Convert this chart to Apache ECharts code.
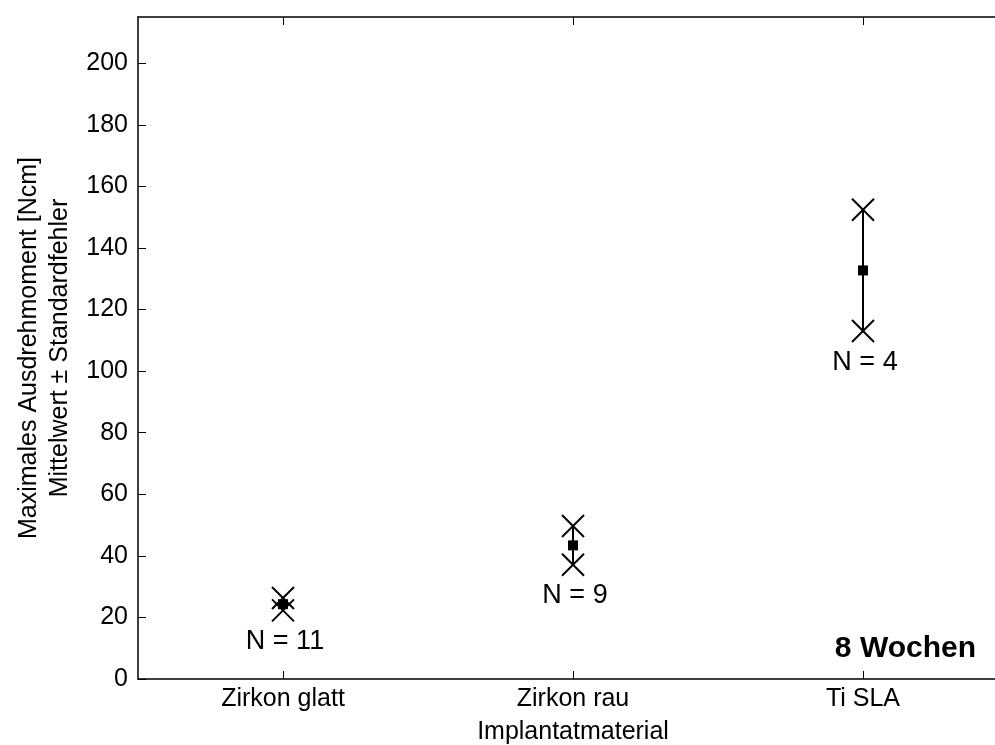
<!DOCTYPE html>
<html>
<head>
<meta charset="utf-8">
<script src="https://cdn.jsdelivr.net/npm/echarts@6/dist/echarts.min.js"></script>
<style>html,body{margin:0;padding:0;background:#fff}#c{width:995px;height:745px}</style>
</head>
<body>
<div id="c"></div>
<script>
const categories = ['Zirkon glatt', 'Zirkon rau', 'Ti SLA'];
const means = [24.3, 43.4, 132.7];
const stdErr = [2.0, 6.3, 19.7];
const nValues = [11, 9, 4];
const yTicks = [0, 20, 40, 60, 80, 100, 120, 140, 160, 180, 200];

const FONT = 'Liberation Sans, Arial, Helvetica, sans-serif';
const data = categories.map((c, i) => [i, means[i], means[i] - stdErr[i], means[i] + stdErr[i], nValues[i]]);

const chart = echarts.init(document.getElementById('c'), null, {renderer: 'canvas'});
chart.setOption({
  animation: false,
  backgroundColor: '#fff',
  grid: {left: 138, top: 17, bottom: 66, right: -13, containLabel: false, outerBoundsMode: 'none'},
  xAxis: [{
    type: 'category',
    data: categories,
    boundaryGap: true,
    position: 'bottom',
    name: 'Implantatmaterial',
    nameLocation: 'middle',
    nameGap: 41,
    nameTextStyle: {fontFamily: FONT, fontSize: 25, color: '#000'},
    axisLine: {lineStyle: {color: '#000', width: 1.5}},
    axisTick: {show: true, inside: true, alignWithLabel: true, length: 8, lineStyle: {color: '#000', width: 1}},
    axisLabel: {fontFamily: FONT, fontSize: 25, color: '#000', margin: 8},
    splitLine: {show: false}
  }, {
    type: 'category',
    data: categories,
    boundaryGap: true,
    position: 'top',
    axisLine: {lineStyle: {color: '#000', width: 1.5}},
    axisTick: {show: true, inside: true, alignWithLabel: true, length: 8, lineStyle: {color: '#000', width: 1}},
    axisLabel: {show: false},
    splitLine: {show: false}
  }],
  yAxis: {
    type: 'value',
    min: 0,
    max: 215,
    interval: 20,
    name: 'Maximales Ausdrehmoment [Ncm]\nMittelwert \u00b1 Standardfehler',
    nameLocation: 'middle',
    nameRotate: 90,
    nameGap: 62,
    nameTextStyle: {fontFamily: FONT, fontSize: 25, color: '#000', lineHeight: 31},
    axisLine: {show: true, lineStyle: {color: '#000', width: 1.5}},
    axisTick: {show: true, inside: true, length: 8, lineStyle: {color: '#000', width: 1}},
    axisLabel: {fontFamily: FONT, fontSize: 25, color: '#000', margin: 10, showMaxLabel: false,
      formatter: v => (yTicks.indexOf(v) >= 0 ? String(v) : '')},
    splitLine: {show: false}
  },
  graphic: [{
    type: 'text',
    right: 19,
    top: 634,
    style: {text: '8 Wochen', font: 'bold 30px ' + FONT, fill: '#000'}
  }],
  series: [{
    type: 'custom',
    data: data,
    encode: {x: 0, y: [1, 2, 3]},
    clip: false,
    renderItem: function (params, api) {
      const x = api.value(0);
      const pm = api.coord([x, api.value(1)]);
      const pl = api.coord([x, api.value(2)]);
      const ph = api.coord([x, api.value(3)]);
      const s = 11;
      const cx = pm[0];
      const ls = {stroke: '#000', lineWidth: 2};
      const cross = (y) => ([
        {type: 'line', shape: {x1: cx - s, y1: y - s, x2: cx + s, y2: y + s}, style: ls},
        {type: 'line', shape: {x1: cx - s, y1: y + s, x2: cx + s, y2: y - s}, style: ls}
      ]);
      const q = 5;
      return {
        type: 'group',
        children: [
          {type: 'line', shape: {x1: cx, y1: pl[1], x2: cx, y2: ph[1]}, style: ls},
          ...cross(pl[1]),
          ...cross(ph[1]),
          {type: 'rect', shape: {x: cx - q, y: pm[1] - q, width: 2 * q, height: 2 * q}, style: {fill: '#000'}},
          {type: 'text', x: cx + 2, y: pl[1] + 31,
            style: {text: 'N = ' + api.value(4), font: '27px ' + FONT, fill: '#000', align: 'center', verticalAlign: 'middle'}}
        ]
      };
    }
  }]
});
</script>
</body>
</html>
